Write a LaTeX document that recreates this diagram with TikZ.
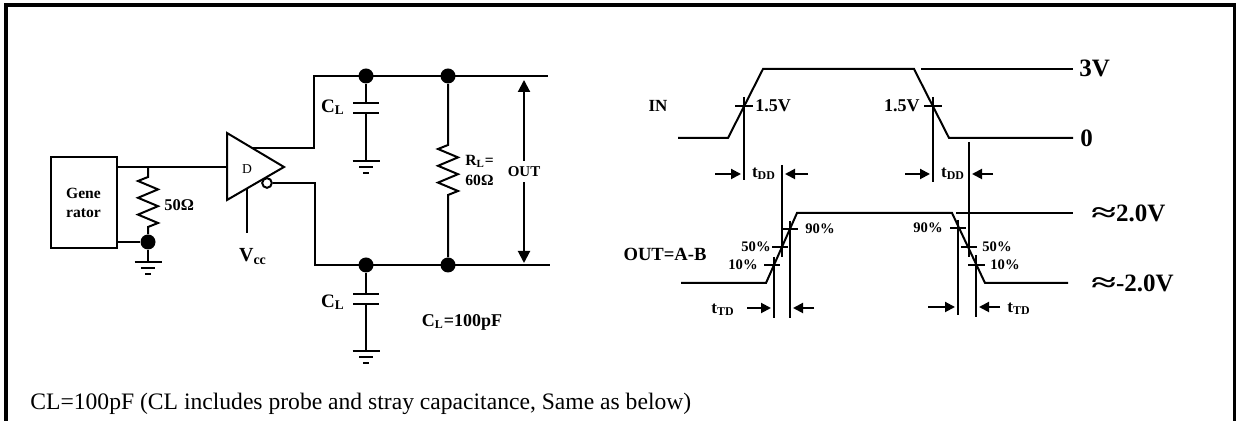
\documentclass[tikz,border=0pt]{standalone}
\usepackage{fontspec}
\setmainfont{Liberation Serif}
\usetikzlibrary{arrows.meta}

\tikzset{
  wire/.style={line width=1pt},
  jdot/.style={circle,fill=black,inner sep=0pt,minimum size=7.5pt},
  lbl/.style={inner sep=0pt,font=\fontsize{#1}{#1}\selectfont\bfseries},
  lbl/.default=9,
  tarrow/.style={line width=1pt,-{Triangle[length=5pt,width=5pt]}},
  gnd/.pic={\draw[line width=1pt] (-13.5,0) -- (13.5,0) (-7,6) -- (7,6) (-3,12) -- (3,12);}
}

\begin{document}
\begin{tikzpicture}[x=0.5pt,y=-0.5pt]
\useasboundingbox (0,0) rectangle (1236,421);

%frame
\draw[line width=2pt] (6,421) -- (6,5) -- (1236,5);
\draw[line width=1.5pt] (1234.5,5) -- (1234.5,421);

%generator and 50 ohm
\node[draw,wire,minimum width=33pt,minimum height=45.5pt,align=center,
  font=\fontsize{7.8}{9.5}\selectfont\bfseries] (gen) at (83.5,203) {Gene\\rator};
\coordinate (gA) at (117,167);
\coordinate (gB) at (117,242);
\coordinate (rtop) at (148,167);
\node[jdot] (gj) at (148,242) {};
\draw[wire] (rtop) -- ++(0,10) -- ++(-10,4) -- ++(20,8.4) -- ++(-20,8.4) -- ++(20,8.4)
  -- ++(-20,8.4) -- ++(20,8.4) -- ++(-10,4) -- (gj);
\draw[wire] (gB) -- (gj);
\draw[wire] (gj) -- ++(0,20) pic{gnd};
\node[lbl=8.2,anchor=west] (r50) at (164,205) {50Ω};

%driver
\coordinate (dA) at (227,133);
\coordinate (dB) at (284,167);
\coordinate (dC) at (227,200);
\coordinate (din) at (227,167);
\draw[wire] (dA) -- (dB) -- (dC) -- cycle;
\draw[wire] (gA) -- (din);
\node[inner sep=0pt,font=\fontsize{6.8}{6.8}\selectfont] (dlbl) at (247,169) {D};
\node[draw,wire,circle,inner sep=0pt,minimum size=4.8pt,fill=white] (bub) at (267,183) {};
\coordinate (vcc) at (247,188);
\draw[wire] (vcc) -- ++(0,45);
\node[lbl=10] (vcclbl) at (253,257) {V\textsubscript{cc}};

%outputs
\coordinate (oA) at (253,148);
\coordinate (tA) at (314,76);
\coordinate (tB) at (548,76);
\coordinate (bA) at (315,265);
\coordinate (bB) at (550,265);
\draw[wire] (oA) -| (tA) -- (tB);
\draw[wire] (bub.east) -| (bA) -- (bB);
\node[jdot] (c1) at (366,76) {};
\node[jdot] (r1) at (448,76) {};
\node[jdot] (c2) at (366,265) {};
\node[jdot] (r2) at (448,265) {};

%C_L top
\draw[wire] (c1) -- (366,103);
\draw[wire] (353,103) -- (379,103) (353,113) -- (379,113);
\draw[wire] (366,113) -- (366,161) pic{gnd};
\node[lbl=9.5] (cl1) at (333,107) {C\textsubscript{L}};
%C_L bottom
\draw[wire] (c2) -- (366,294);
\draw[wire] (353,294) -- (379,294) (353,304) -- (379,304);
\draw[wire] (366,304) -- (366,351) pic{gnd};
\node[lbl=9.5] (cl2) at (333,302) {C\textsubscript{L}};

%R_L
\draw[wire] (r1) -- (448,145) -- ++(-10,4) -- ++(20,8.4) -- ++(-20,8.4) -- ++(20,8.4)
  -- ++(-20,8.4) -- ++(20,8.4) -- ++(-10,4) -- (r2);
\node[lbl=7.8,anchor=west,align=left,font=\fontsize{7.8}{10}\selectfont\bfseries] (rl) at (465,170) {R\textsubscript{L}=\\60Ω};

%OUT
\draw[wire,{Triangle[length=6pt,width=6pt]}-{Triangle[length=6pt,width=6pt]}] (524,80) -- (524,263)
  node[midway,fill=white,lbl=7.5,inner sep=2.5pt] (out) {OUT};
\node[lbl=9] (clv) at (462,322) {C\textsubscript{L}=100pF};

%IN waveform
\node[lbl=8.5] (inlbl) at (658,106) {IN};
\draw[wire] (678,138) -- (728,138) -- (763,69) -- (914,69) -- (949,138) -- (1073,138);
\draw[wire] (921,69) -- (1073,69);
\node[lbl=12.5,anchor=west] (v3) at (1079,68) {3V};
\node[lbl=12.5,anchor=west] (v0) at (1080,138) {0};
\draw[wire] (735,106) -- (753,106) (744,97) -- (744,180);
\draw[wire] (924,106) -- (942,106) (933,97) -- (933,182);
\node[lbl=9,anchor=west] (h1) at (755,106) {1.5V};
\node[lbl=9,anchor=east] (h2) at (920,106) {1.5V};

%t_DD
\draw[wire] (782,165) -- (782,257);
\draw[wire] (969,142) -- (969,257);
\draw[tarrow] (715,174) -- (741,174);
\draw[tarrow] (808,174) -- (785,174);
\draw[tarrow] (905,174) -- (930,174);
\draw[tarrow] (993,174) -- (972,174);
\node[lbl=8.5] (dd1) at (764,174) {t\textsubscript{DD}};
\node[lbl=8.5] (dd2) at (953,174) {t\textsubscript{DD}};

%OUT waveform
\node[lbl=9.3] (ab) at (665,254) {OUT=A-B};
\draw[wire] (681,283) -- (766,283) -- (797,213) -- (952,213) -- (985,283) -- (1068,283);
\draw[wire] (956,213) -- (1073,213);
\node[lbl=12.5,anchor=west] (vp) at (1091,213) {\scalebox{1.8}[1.05]{≈}2.0V};
\node[lbl=12.5,anchor=west] (vm) at (1091,283) {\scalebox{1.8}[1.05]{≈}-2.0V};

%rising percent marks
\draw[wire] (783,229) -- (798,229) (772,247) -- (788,247) (764,265) -- (780,265);
\node[lbl=7.3,anchor=west] (p90a) at (805,229) {90\%};
\node[lbl=7.3,anchor=east] (p50a) at (771,247) {50\%};
\node[lbl=7.3,anchor=east] (p10a) at (758,265) {10\%};
%falling percent marks
\draw[wire] (950,228) -- (966,228) (961,247) -- (977,247) (968,265) -- (985,265);
\node[lbl=7.3,anchor=east] (p90b) at (943,228) {90\%};
\node[lbl=7.3,anchor=west] (p50b) at (982,247) {50\%};
\node[lbl=7.3,anchor=west] (p10b) at (990,265) {10\%};

%t_TD
\draw[wire] (774,257) -- (774,318) (790,221) -- (790,318);
\draw[wire] (958,220) -- (958,315) (976,255) -- (976,317);
\draw[tarrow] (747,308) -- (771,308);
\draw[tarrow] (814,308) -- (793,308);
\draw[tarrow] (928,307) -- (955,307);
\draw[tarrow] (1000,307) -- (979,307);
\node[lbl=8.5] (td1) at (723,310) {t\textsubscript{TD}};
\node[lbl=8.5,anchor=west] (td2) at (1007,309) {t\textsubscript{TD}};

%note
\node[inner sep=0pt,anchor=base west,font=\fontsize{11.8}{14}\selectfont] (note) at (30,410)
  {CL=100pF (CL includes probe and stray capacitance, Same as below)};

\end{tikzpicture}
\end{document}
